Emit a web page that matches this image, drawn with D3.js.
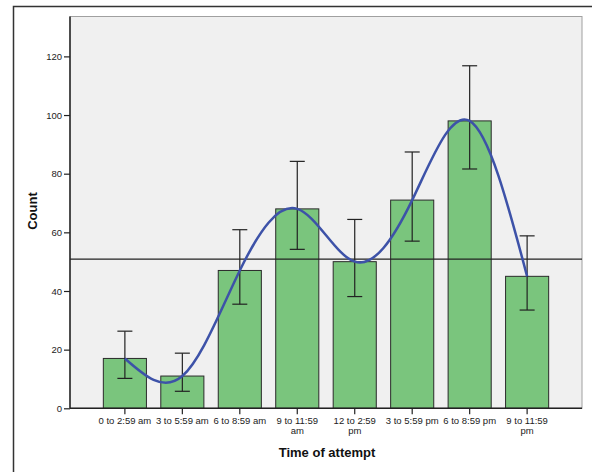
<!DOCTYPE html>
<html>
<head>
	<meta charset="utf-8">
	<title>Time of attempt</title>
	<style>
		body { margin: 0; background: #fff; }
		svg { display: block; font-family: "Liberation Sans", Arial, sans-serif; }
		.tick text { fill: #222; font-size: 9.5px; }
		.axis-title { font-weight: bold; font-size: 13px; fill: #111; }
	</style>
</head>
<body>
	<div id="drawing"></div>
	<script src="https://cdnjs.cloudflare.com/ajax/libs/d3/7.8.5/d3.min.js"></script>
	<script>
	// Data
	var categories = ["0 to 2:59 am", "3 to 5:59 am", "6 to 8:59 am", "9 to 11:59 am",
		"12 to 2:59 pm", "3 to 5:59 pm", "6 to 8:59 pm", "9 to 11:59 pm"]
	var counts   = [17, 11, 47, 68, 50, 71, 98, 45]
	var errLow   = [10.2, 5.8, 35.5, 54.2, 38.1, 57, 81.6, 33.5]
	var errHigh  = [26.3, 18.8, 60.9, 84.2, 64.4, 87.4, 116.8, 58.8]
	var yTicks   = [0, 20, 40, 60, 80, 100, 120]
	// labels are wrapped onto two lines like the original
	var tickLines = [["0 to 2:59 am"], ["3 to 5:59 am"], ["6 to 8:59 am"], ["9 to 11:59", "am"],
		["12 to 2:59", "pm"], ["3 to 5:59 pm"], ["6 to 8:59 pm"], ["9 to 11:59", "pm"]]

	// Settings
	var width = 592, height = 472,
		plotLeft = 70, plotRight = 582, plotTop = 16.5, plotBottom = 408.3

	var svg = d3.select("#drawing").append("svg")
		.attr("width", width)
		.attr("height", height)

	// Outer frame (runs off the right and bottom)
	svg.append("rect")
		.attr("x", 13.5).attr("y", 6.5)
		.attr("width", 600).attr("height", 500)
		.attr("fill", "none").attr("stroke", "#333").attr("stroke-width", 1.5)

	var x = d3.scaleBand()
		.domain(categories)
		.range([plotLeft, plotRight])
		.paddingInner(0.25)
		.paddingOuter(0.58)

	var y = d3.scaleLinear()
		.domain([0, 133.6])
		.range([plotBottom, plotTop])

	// Plot background
	svg.append("rect")
		.attr("x", plotLeft).attr("y", plotTop)
		.attr("width", plotRight - plotLeft).attr("height", plotBottom - plotTop)
		.attr("fill", "#f0f0f0").attr("stroke", "#a0a0a0").attr("stroke-width", 1)

	// Bars
	svg.selectAll(".bar")
		.data(counts)
		.enter().append("rect")
		.attr("class", "bar")
		.attr("x", function(d, i){ return x(categories[i]) })
		.attr("y", function(d){ return y(d) })
		.attr("width", x.bandwidth())
		.attr("height", function(d){ return y(0) - y(d) })
		.attr("fill", "#7ac57d")
		.attr("stroke", "#2a2a2a")
		.attr("stroke-width", 1)

	// Mean reference line
	svg.append("line")
		.attr("x1", plotLeft).attr("x2", plotRight)
		.attr("y1", y(d3.mean(counts))).attr("y2", y(d3.mean(counts)))
		.attr("stroke", "#222").attr("stroke-width", 1.2)

	// Error bars
	var cx = function(i){ return x(categories[i]) + x.bandwidth()/2 }
	var eb = svg.append("g").attr("stroke", "#222").attr("stroke-width", 1.2)
	counts.forEach(function(d, i){
		eb.append("line")
			.attr("x1", cx(i)).attr("x2", cx(i))
			.attr("y1", y(errLow[i])).attr("y2", y(errHigh[i]))
		;[errLow[i], errHigh[i]].forEach(function(v){
			eb.append("line")
				.attr("x1", cx(i) - 7.5).attr("x2", cx(i) + 7.5)
				.attr("y1", y(v)).attr("y2", y(v))
		})
	})

	// Interpolation line through the bar tops
	var line = d3.line()
		.x(function(d, i){ return cx(i) })
		.y(function(d){ return y(d) })
		.curve(d3.curveNatural)
	svg.append("path")
		.datum(counts)
		.attr("d", line)
		.attr("fill", "none")
		.attr("stroke", "#3d52a8")
		.attr("stroke-width", 2.5)

	// Axes
	var yAxis = svg.append("g")
		.attr("transform", "translate(" + plotLeft + ",0)")
		.call(d3.axisLeft(y).tickValues(yTicks).tickSize(6).tickPadding(2))
	var xAxis = svg.append("g")
		.attr("transform", "translate(0," + plotBottom + ")")
		.call(d3.axisBottom(x).tickSize(6).tickPadding(3))

	;[yAxis, xAxis].forEach(function(a){
		a.select(".domain").attr("stroke", "#222").attr("stroke-width", 1.5)
		a.selectAll(".tick line").attr("stroke", "#222").attr("stroke-width", 1.2)
	})
	yAxis.select(".domain").attr("d", "M0," + plotBottom + "V" + plotTop)
	xAxis.select(".domain").attr("d", "M" + plotLeft + ",0H" + plotRight)

	// Wrap the x labels
	xAxis.selectAll(".tick text").each(function(d, i){
		var t = d3.select(this).text(null)
		tickLines[i].forEach(function(s, j){
			t.append("tspan").attr("x", 0).attr("dy", j === 0 ? "0.71em" : "1.05em").text(s)
		})
	})

	// Axis titles
	svg.append("text")
		.attr("class", "axis-title")
		.attr("transform", "translate(37,211) rotate(-90)")
		.attr("text-anchor", "middle")
		.text("Count")
	svg.append("text")
		.attr("class", "axis-title")
		.attr("x", 327).attr("y", 457)
		.attr("text-anchor", "middle")
		.text("Time of attempt")
	</script>
</body>
</html>
